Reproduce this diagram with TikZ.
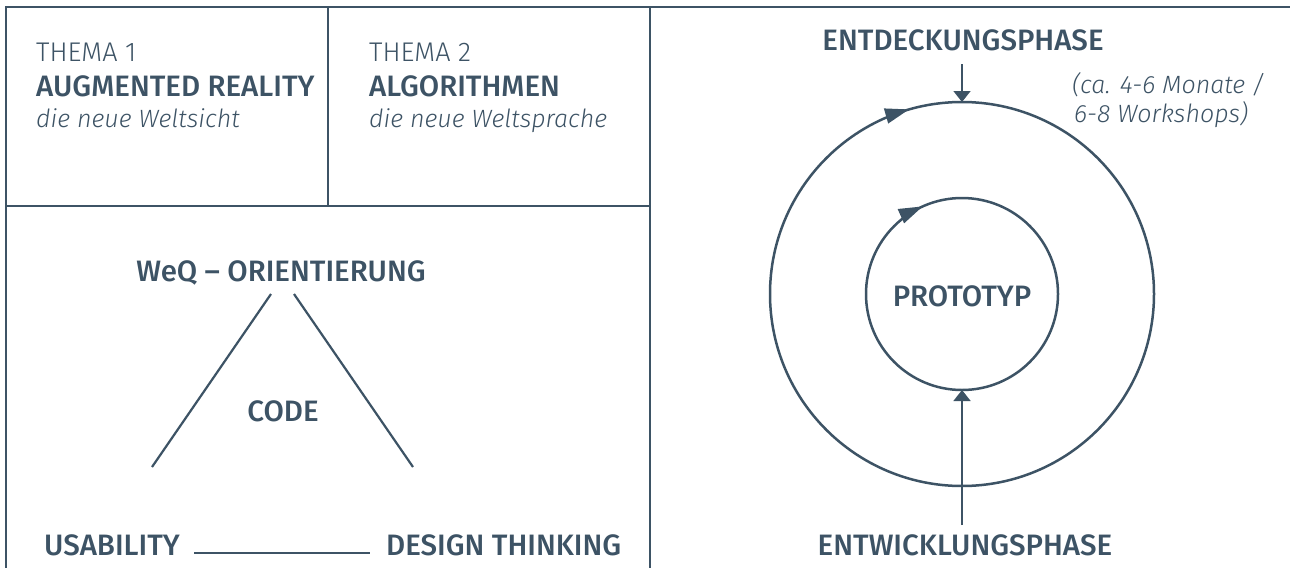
\documentclass[tikz,border=0pt]{standalone}
\usepackage{fontspec}
\setmainfont{Fira Sans}[UprightFont=* Light, ItalicFont=* Light Italic, BoldFont=* Medium]
\usetikzlibrary{arrows.meta,decorations.markings}
\definecolor{ink}{HTML}{3D5365}
\begin{document}
\begin{tikzpicture}[x=1pt,y=1pt,
  frameline/.style={draw=ink, line width=1.6pt},
  lbl/.style={text=ink, inner sep=0pt, font=\fontsize{27}{32}\selectfont},
  medlbl/.style={text=ink, inner sep=0pt, font=\fontsize{29.5}{34}\selectfont\bfseries},
  itlbl/.style={text=ink, inner sep=0pt, font=\fontsize{25}{30}\selectfont\itshape},
  conn/.style={draw=ink, line width=2.2pt},
  ring/.style={draw=ink, line width=2.5pt},
  shaft/.style={draw=ink, line width=1.6pt, -{Triangle[width=17pt,length=11pt]}},
]
\useasboundingbox (0,0) rectangle (1290,-568);
\fill[white] (0,0) rectangle (1290,-568);
% frame
\draw[frameline] (1290,-7) -- (6,-7) -- (6,-568);
\draw[frameline] (650,-7) -- (650,-568);
\draw[frameline] (6,-206) -- (650,-206);
\draw[frameline] (328,-7) -- (328,-206);
% Themen
\node[lbl, anchor=base west] (t1) at (36,-61) {THEMA 1};
\node[medlbl, anchor=base west] (t1h) at (36,-96) {AUGMENTED REALITY};
\node[itlbl, anchor=base west] (t1s) at (36,-127) {die neue Weltsicht};
\node[lbl, anchor=base west] (t2) at (369,-61) {THEMA 2};
\node[medlbl, anchor=base west] (t2h) at (369,-96) {ALGORITHMEN};
\node[itlbl, anchor=base west] (t2s) at (369,-127) {die neue Weltsprache};
% Dreieck
\node[medlbl, anchor=base] (weq) at (281,-281) {WeQ – ORIENTIERUNG};
\node[medlbl, anchor=base] (code) at (283,-421) {CODE};
\node[medlbl, anchor=base west] (usa) at (44,-555) {USABILITY};
\node[medlbl, anchor=base west] (dt) at (386,-555) {DESIGN THINKING};
\coordinate (l1) at (271,-294); \coordinate (l2) at (152,-467);
\coordinate (r1) at (294,-294); \coordinate (r2) at (413,-467);
\coordinate (b1) at (194,-553); \coordinate (b2) at (370,-553);
\draw[conn] (l1) -- (l2);
\draw[conn] (r1) -- (r2);
\draw[conn] (b1) -- (b2);
% Kreise
\coordinate (c) at (962,-294);
\draw[ring, postaction={decorate, decoration={markings, mark=at position 0.2056 with {\arrow{Triangle[length=24pt,width=15pt]}}}}]
  (c) ++(180:192) arc[start angle=180, end angle=-180, radius=192];
\draw[ring, postaction={decorate, decoration={markings, mark=at position 0.183 with {\arrow{Triangle[length=24pt,width=15pt]}}}}]
  (c) ++(180:96) arc[start angle=180, end angle=-180, radius=96];
\node[medlbl] (proto) at (962,-296) {PROTOTYP};
\node[medlbl, anchor=base] (entd) at (963,-50) {ENTDECKUNGSPHASE};
\node[itlbl, anchor=base west] (n1) at (1072,-93) {(ca. 4-6 Monate /};
\node[itlbl, anchor=base west] (n2) at (1074,-122) {6-8 Workshops)};
\node[medlbl, anchor=base] (entw) at (965,-555) {ENTWICKLUNGSPHASE};
\coordinate (a1s) at (962,-64); \coordinate (a1e) at (962,-102);
\coordinate (a2s) at (962,-525); \coordinate (a2e) at (962,-390);
\draw[shaft] (a1s) -- (a1e);
\draw[shaft] (a2s) -- (a2e);
\end{tikzpicture}
\end{document}
